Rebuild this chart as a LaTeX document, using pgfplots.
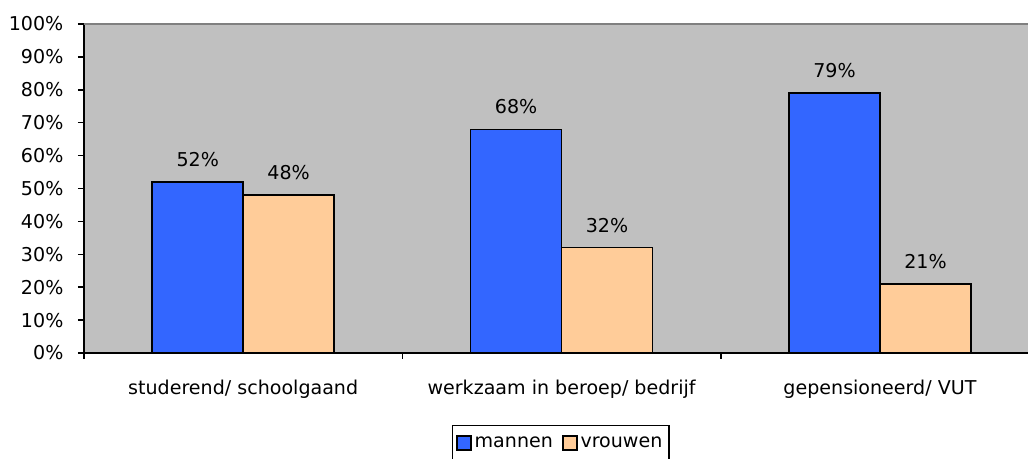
\documentclass[border=0pt]{standalone}
\usepackage{fontspec}
\setmainfont{DejaVu Sans}
\usepackage{pgfplots}
\pgfplotsset{compat=1.18}
\definecolor{plotbg}{HTML}{C0C0C0}
\definecolor{manblue}{HTML}{3366FF}
\definecolor{vrouwpeach}{HTML}{FFCC99}
\newcommand{\chartfont}{\fontsize{14.3pt}{17pt}\selectfont}
\begin{document}
\chartfont
\begin{tikzpicture}
\begin{axis}[
  scale only axis,
  width=708pt, height=246.75pt,
  xmin=-0.5, xmax=2.465,
  ymin=0, ymax=100,
  ybar=0pt,
  bar width=0.2857,
  axis background/.style={fill=plotbg},
  axis x line*=bottom, axis y line*=left,
  axis line style={black, line width=1.1pt},
  ytick={0,10,...,100},
  yticklabel={\pgfmathprintnumber{\tick}\%},
  /pgf/number format/assume math mode=true,
  y tick label style={font=\chartfont, xshift=-6pt},
  tick align=outside,
  major tick length=4.5pt,
  minor tick length=4.5pt,
  y tick style={black, line width=1.1pt},
  xtick={0,1,2},
  xticklabels={studerend/ schoolgaand, werkzaam in beroep/ bedrijf, gepensioneerd/ VUT},
  x tick label style={font=\chartfont, yshift=-11pt},
  major x tick style={draw=none},
  minor xtick={-0.5,0.5,1.5},
  minor x tick style={black, line width=1.1pt},
  nodes near coords={\pgfmathprintnumber{\pgfplotspointmeta}\%},
  nodes near coords style={font=\chartfont, black, yshift=6pt},
  legend columns=2,
  legend style={at={(0.505,0)}, anchor=north, yshift=-54pt, draw=black, line width=1.1pt,
    font=\chartfont, inner xsep=3pt, inner ysep=6pt,
    /tikz/every odd column/.append style={column sep=0pt},
    /tikz/every even column/.append style={column sep=5pt}},
  legend image code/.code={\draw[#1, line width=1.3pt] (0pt,-5.2pt) rectangle (10.4pt,5.2pt);},
  clip=false,
]
\draw[gray, line width=1.1pt] (rel axis cs:0,1) -- (rel axis cs:1,1);
\addplot[fill=manblue, draw=black, line width=1.1pt] coordinates {(0,52) (1,68) (2,79)};
\addplot[fill=vrouwpeach, draw=black, line width=1.1pt] coordinates {(0,48) (1,32) (2,21)};
\legend{mannen, vrouwen}
\end{axis}
\pgfresetboundingbox
\useasboundingbox (-63pt,-79.5pt) rectangle (708pt,264.75pt);
\end{tikzpicture}
\end{document}
